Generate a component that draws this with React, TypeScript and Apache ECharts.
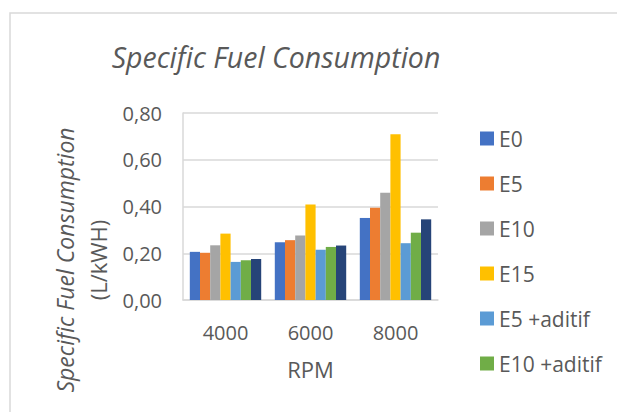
import React, { useEffect, useRef } from "react";
import * as echarts from "echarts";

const categories = ["4000", "6000", "8000"];
const seriesNames = ["E0", "E5", "E10", "E15", "E5 +aditif", "E10 +aditif", "E15 +aditif"];
const e0 = [0.206, 0.247, 0.351];
const e5 = [0.202, 0.256, 0.395];
const e10 = [0.234, 0.276, 0.459];
const e15 = [0.284, 0.409, 0.709];
const e5Aditif = [0.163, 0.215, 0.243];
const e10Aditif = [0.170, 0.227, 0.288];
const e15Aditif = [0.175, 0.233, 0.345];
const yTicks = [0, 0.2, 0.4, 0.6, 0.8];

const colors = ["#4472C4", "#ED7D31", "#A5A5A5", "#FFC000", "#5B9BD5", "#70AD47", "#264478"];
const font = "'Open Sans', 'Segoe UI', sans-serif";
const textColor = "#595959";

export default function App() {
  const ref = useRef<HTMLDivElement>(null);
  useEffect(() => {
    if (!ref.current) return;
    const chart = echarts.init(ref.current, null, { renderer: "svg" });
    const values = [e0, e5, e10, e15, e5Aditif, e10Aditif, e15Aditif];
    chart.setOption({
      animation: false,
      backgroundColor: "#ffffff",
      textStyle: { fontFamily: font, color: textColor },
      title: {
        text: "Specific Fuel Consumption",
        left: 271,
        top: 37,
        textAlign: "center",
        textStyle: { fontFamily: font, fontStyle: "italic", fontWeight: "normal", fontSize: 28.5, color: textColor },
      },
      legend: {
        data: seriesNames.slice(0, 6),
        orient: "vertical",
        left: 475,
        top: 123,
        itemWidth: 14,
        itemHeight: 14,
        itemGap: 24,
        icon: "rect",
        textStyle: { fontFamily: font, fontSize: 21, color: textColor },
      },
      grid: { left: 183, top: 113, width: 255, height: 187, containLabel: false },
      xAxis: {
        type: "category",
        data: categories,
        name: "RPM",
        nameLocation: "middle",
        nameGap: 58,
        nameTextStyle: { fontFamily: font, fontSize: 22, color: textColor },
        axisLine: { show: true, lineStyle: { color: "#D9D9D9", width: 1.5 } },
        axisTick: { show: false },
        axisLabel: { fontFamily: font, fontSize: 20, color: textColor, margin: 22 },
      },
      yAxis: {
        type: "value",
        min: yTicks[0],
        max: yTicks[yTicks.length - 1],
        interval: 0.2,
        axisLine: { show: true, lineStyle: { color: "#D9D9D9", width: 1.5 } },
        axisTick: { show: false },
        splitLine: { lineStyle: { color: "#D9D9D9", width: 1.5 } },
        axisLabel: {
          fontFamily: font,
          fontSize: 20,
          color: textColor,
          margin: 21,
          formatter: (v: number) => v.toFixed(2).replace(".", ","),
        },
      },
      graphic: [
        {
          type: "rect",
          shape: { x: 10, y: 13, width: 800, height: 600 },
          style: { fill: "none", stroke: "#D9D9D9", lineWidth: 1.5 },
          silent: true,
        },
        {
          type: "text",
          x: 65,
          y: 260,
          rotation: Math.PI / 2,
          style: {
            text: "Specific Fuel Consumption",
            align: "center",
            verticalAlign: "middle",
            fontFamily: font,
            fontSize: 23,
            fontStyle: "italic",
            fill: textColor,
          },
        },
        {
          type: "text",
          x: 98,
          y: 260,
          rotation: Math.PI / 2,
          style: {
            text: "(L/kWH)",
            align: "center",
            verticalAlign: "middle",
            fontFamily: font,
            fontSize: 22,
            fill: textColor,
          },
        },
      ],
      series: seriesNames.map((name, i) => ({
        name,
        type: "bar",
        data: values[i],
        barGap: "0%",
        barCategoryGap: "16%",
        itemStyle: { color: colors[i] },
      })),
    });
    return () => chart.dispose();
  }, []);
  return (
    <div
      ref={ref}
      style={{ position: "fixed", left: 0, top: 0, width: 617, height: 412 }}
    />
  );
}
